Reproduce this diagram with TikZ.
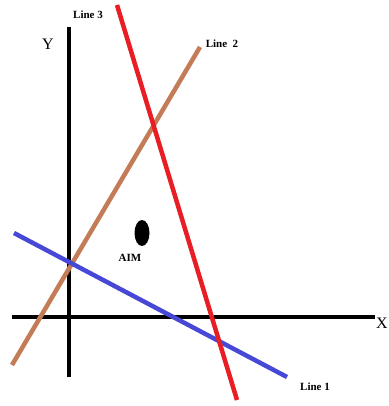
\documentclass[tikz,border=0pt]{standalone}
\usepackage{fontspec}
\setmainfont{Liberation Serif}
\usetikzlibrary{shapes.geometric}
\begin{document}
\begin{tikzpicture}[x=1pt,y=-1pt,
  axis/.style={line width=4pt,black},
  lineA/.style={line width=4.5pt},
  lbl/.style={font=\fontsize{11}{12}\selectfont\bfseries,inner sep=0pt},
  axlbl/.style={font=\fontsize{16}{17}\selectfont,inner sep=0pt}]
\fill[white] (0,0) rectangle (388,406);
\useasboundingbox (0,0) rectangle (388,406);
\definecolor{lred}{RGB}{232,30,36}
\definecolor{lbrown}{RGB}{196,124,86}
\definecolor{lblue}{RGB}{72,72,214}
% axes
\coordinate (yb) at (69,377);
\coordinate (yt) at (69,27);
\coordinate (xl) at (12,317);
\coordinate (xr) at (375,317);
\draw[axis] (yb) -- (yt);
\draw[axis] (xl) -- (xr);
\node[axlbl] (Ylab) at (48,44) {Y};
\node[axlbl] (Xlab) at (382,323) {X};
% lines
\coordinate (r1) at (117,5);
\coordinate (r2) at (237,400);
\coordinate (b1) at (200,47);
\coordinate (b2) at (12,365);
\coordinate (u1) at (14,233);
\coordinate (u2) at (287,377);
\draw[lineA,lbrown] (b1) -- (b2);
\draw[lineA,lblue] (u1) -- (u2);
\draw[lineA,lred] (r1) -- (r2);
\node[lbl] (L3) at (88,15) {Line 3};
\node[lbl] (L2) at (222,44) {Line\ \ 2};
\node[lbl] (L1) at (315,387) {Line 1};
% aim
\node[fill=black,ellipse,minimum width=15pt,minimum height=26pt,inner sep=0pt] (aim) at (142,233) {};
\node[lbl] (aimlab) at (130,258) {AIM};
\end{tikzpicture}
\end{document}
